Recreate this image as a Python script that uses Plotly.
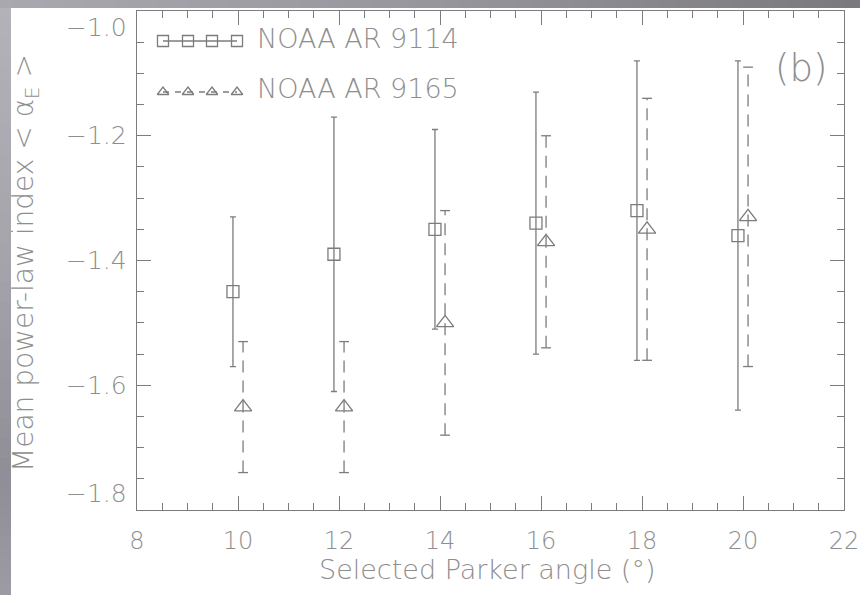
import plotly.graph_objects as go

# Mean power-law index of the two active regions versus the selected Parker angle
angles = [10, 12, 14, 16, 18, 20]
ar9114_mean = [-1.45, -1.39, -1.35, -1.34, -1.32, -1.36]
ar9114_err = [0.12, 0.22, 0.16, 0.21, 0.24, 0.28]
ar9165_mean = [-1.635, -1.635, -1.50, -1.37, -1.35, -1.33]
ar9165_err = [0.105, 0.105, 0.18, 0.17, 0.21, 0.24]

x_ticks = [8, 10, 12, 14, 16, 18, 20, 22]
x_tick_labels = ["8", "10", "12", "14", "16", "18", "20", "22"]
y_ticks = [-1.8, -1.6, -1.4, -1.2, -1.0]
y_tick_labels = ["\u22121.8", "\u22121.6", "\u22121.4", "\u22121.2", "\u22121.0"]

series_names = ["NOAA AR 9114", "NOAA AR 9165"]

W, H = 860, 595
L, R, T, B = 137, 844, 11, 510   # plot box in pixels
OFFSET = 0.1                      # side-by-side shift of the two series
X_MINOR_STEP, Y_MINOR_STEP = 0.5, 0.05

LINE = "#7c7c7c"
TEXT = "#8e8e8e"
FONT = "DejaVu Sans"


def px_x(px):
    return (px - L) / (R - L)


def px_y(py):
    return (B - py) / (B - T)


def minor_vals(lo, hi, step):
    n = int(round((hi - lo) / step))
    return [round(lo + i * step, 4) for i in range(n + 1)]


def blend(stops, t):
    """Linear colour interpolation between (pos, (r, g, b)) stops."""
    for (p0, c0), (p1, c1) in zip(stops[:-1], stops[1:]):
        if p0 <= t <= p1:
            f = (t - p0) / (p1 - p0) if p1 > p0 else 0
            return "rgb(%d,%d,%d)" % tuple(round(a + (b - a) * f) for a, b in zip(c0, c1))
    return "rgb(%d,%d,%d)" % stops[-1][1]


fig = go.Figure()

# AR 9114: solid error bars, open squares
x1 = [a - OFFSET for a in angles]
fig.add_trace(go.Scatter(
    x=x1, y=ar9114_mean, mode="markers",
    marker=dict(symbol="square-open", size=12, color=LINE, line=dict(width=1.3, color=LINE)),
    error_y=dict(type="data", array=ar9114_err, visible=True, color=LINE,
                 thickness=1.3, width=3),
    showlegend=False,
))

# AR 9165: dashed error bars, open triangles
x2 = [a + OFFSET for a in angles]
bar_x, bar_y = [], []
for xv, m, e in zip(x2, ar9165_mean, ar9165_err):
    bar_x += [xv, xv, None]
    bar_y += [m - e, m + e, None]
fig.add_trace(go.Scatter(
    x=bar_x, y=bar_y, mode="lines",
    line=dict(color=LINE, width=1.3, dash="12px,8px"),
    showlegend=False, hoverinfo="skip",
))
cap_x = x2 + x2
cap_y = [m - e for m, e in zip(ar9165_mean, ar9165_err)] + \
        [m + e for m, e in zip(ar9165_mean, ar9165_err)]
fig.add_trace(go.Scatter(
    x=cap_x, y=cap_y, mode="markers",
    marker=dict(symbol="line-ew", size=7, line=dict(width=1.3, color=LINE)),
    showlegend=False, hoverinfo="skip",
))
fig.add_trace(go.Scatter(
    x=x2, y=ar9165_mean, mode="markers",
    marker=dict(symbol="triangle-up-open", size=15, color=LINE, line=dict(width=1.3, color=LINE)),
    showlegend=False,
))

# Key drawn on a pixel-scaled overlay axis
key_x = [163, 188, 212, 237]
fig.add_trace(go.Scatter(
    x=key_x, y=[41] * 4, xaxis="x2", yaxis="y2", mode="lines+markers",
    line=dict(color=LINE, width=1.3),
    marker=dict(symbol="square-open", size=11, color=LINE, line=dict(width=1.3, color=LINE)),
    showlegend=False, hoverinfo="skip",
))
fig.add_trace(go.Scatter(
    x=key_x, y=[92] * 4, xaxis="x2", yaxis="y2", mode="lines+markers",
    line=dict(color=LINE, width=1.3, dash="6px,6px"),
    marker=dict(symbol="triangle-up-open", size=10, color=LINE, line=dict(width=1.3, color=LINE)),
    showlegend=False, hoverinfo="skip",
))

ann = []
for name, py in zip(series_names, [38, 88]):
    ann.append(dict(text=name, x=px_x(255), y=px_y(py), xref="paper", yref="paper",
                    xanchor="left", yanchor="middle", showarrow=False,
                    font=dict(family=FONT, size=27, color=TEXT, weight=200)))

# y tick labels, end labels kept inside the box
for v, lab in zip(y_ticks, y_tick_labels):
    if v == min(y_ticks):
        ya = "bottom"
    elif v == max(y_ticks):
        ya = "top"
    else:
        ya = "middle"
    ann.append(dict(text=lab, x=0, y=v, xref="paper", yref="y", xanchor="right",
                    yanchor=ya, xshift=-8, showarrow=False,
                    font=dict(family=FONT, size=25, color=TEXT, weight=200)))

ann.append(dict(text="Selected Parker angle (\u00b0)", x=px_x(487), y=px_y(569),
                xref="paper", yref="paper", xanchor="center", yanchor="middle",
                showarrow=False, font=dict(family=FONT, size=27, color=TEXT, weight=200)))
ann.append(dict(text="Mean power-law index < \u03b1<sub>E</sub> >", x=px_x(25), y=px_y(263),
                xref="paper", yref="paper", xanchor="center", yanchor="middle",
                textangle=-90, showarrow=False,
                font=dict(family=FONT, size=28, color=TEXT, weight=200)))
ann.append(dict(text="(b)", x=px_x(801), y=px_y(68), xref="paper", yref="paper",
                xanchor="center", yanchor="middle", showarrow=False,
                font=dict(family=FONT, size=37, color=TEXT, weight=200)))

# grey slide frame along the left and top edges (stepped gradient)
shapes = []
left_stops = [(0.0, (180, 178, 185)), (0.45, (165, 163, 170)),
              (0.8, (143, 141, 149)), (1.0, (157, 155, 163))]
steps = 60
for i in range(steps):
    y_top = 8 + (H - 8) * i / steps
    y_bot = 8 + (H - 8) * (i + 1) / steps + 1
    shapes.append(dict(type="rect", xref="paper", yref="paper",
                       x0=px_x(0), x1=px_x(11), y0=px_y(y_bot), y1=px_y(y_top),
                       fillcolor=blend(left_stops, (i + 0.5) / steps),
                       line=dict(width=0), layer="above"))
top_stops = [(0.0, (170, 168, 175)), (0.5, (152, 150, 157)), (1.0, (122, 121, 125))]
for i in range(steps):
    x_l = W * i / steps
    x_r = W * (i + 1) / steps + 1
    shapes.append(dict(type="rect", xref="paper", yref="paper",
                       x0=px_x(x_l), x1=px_x(x_r), y0=px_y(8), y1=px_y(0),
                       fillcolor=blend(top_stops, (i + 0.5) / steps),
                       line=dict(width=0), layer="above"))

axis_common = dict(showgrid=False, zeroline=False, showline=True, linecolor=LINE,
                   linewidth=1.3, mirror="allticks", ticks="inside", tickcolor=LINE,
                   tickwidth=1.3, ticklen=14)

fig.update_layout(
    width=W, height=H,
    margin=dict(l=L, r=W - R, t=T, b=H - B, autoexpand=False),
    paper_bgcolor="white", plot_bgcolor="white",
    xaxis=dict(range=[8, 22], tickvals=x_ticks, ticktext=x_tick_labels,
               tickfont=dict(family=FONT, size=24, color=TEXT, weight=200),
               ticklabelstandoff=9, ticklabeloverflow="allow",
               minor=dict(tickvals=minor_vals(8, 22, X_MINOR_STEP), ticks="inside",
                          ticklen=7, tickcolor=LINE, tickwidth=1.3),
               **axis_common),
    yaxis=dict(range=[-1.8, -1.0], tickvals=y_ticks, showticklabels=False,
               minor=dict(tickvals=minor_vals(-1.8, -1.0, Y_MINOR_STEP), ticks="inside",
                          ticklen=7, tickcolor=LINE, tickwidth=1.3),
               **axis_common),
    xaxis2=dict(overlaying="x", anchor="y2", range=[L, R], visible=False),
    yaxis2=dict(overlaying="y", anchor="x2", range=[B, T], visible=False),
    annotations=ann,
    shapes=shapes,
    showlegend=False,
)

fig.write_html("out.html")
